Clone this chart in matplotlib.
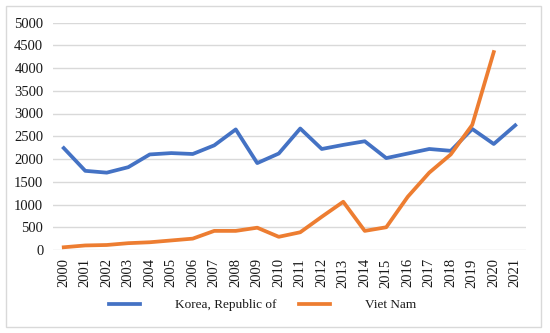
import matplotlib.pyplot as plt
from matplotlib.patches import Rectangle

years = list(range(2000, 2022))
korea = [2240, 1740, 1700, 1820, 2100, 2130, 2110, 2300, 2650, 1910, 2120,
         2670, 2220, 2310, 2390, 2020, 2120, 2220, 2180, 2660, 2330, 2740]
vietnam = [60, 100, 110, 150, 170, 210, 250, 420, 420, 490, 290,
           390, 730, 1060, 420, 500, 1170, 1700, 2100, 2750, 4350]

plt.rcParams['font.family'] = ['Liberation Serif', 'DejaVu Serif']

fig = plt.figure(figsize=(5.5, 3.33), dpi=100)
ax = fig.add_axes([53/550, 83/333, 473/550, 227.5/333])

ax.plot(years, korea, color='#4472C4', lw=2.7, label='Korea, Republic of')
ax.plot(years[:len(vietnam)], vietnam, color='#ED7D31', lw=2.7, label='Viet Nam')

ax.set_xlim(1999.5, 2021.5)
ax.set_ylim(0, 5000)
ax.set_yticks(range(0, 5001, 500))
ax.set_xticks(years)
ax.set_xticklabels([str(y) for y in years], rotation=90)
ax.tick_params(axis='both', length=0, labelsize=10.5, colors='#1a1a1a')
ax.tick_params(axis='y', pad=7)
ax.tick_params(axis='x', pad=6)
ax.grid(axis='y', color='#D9D9D9', lw=1)
ax.set_axisbelow(True)
for s in ax.spines.values():
    s.set_visible(False)

fig.legend(loc='center', bbox_to_anchor=(0.477, 28/333), ncol=2, frameon=False,
           fontsize=9.5, handlelength=2.4, handletextpad=2.6, columnspacing=1.7,
           labelcolor='#1a1a1a')

fig.patches.append(Rectangle((6/550, 6/333), 535/550, 321/333, transform=fig.transFigure,
                             fill=False, edgecolor='#D9D9D9', lw=1))

fig.savefig('out.png', dpi=100)
